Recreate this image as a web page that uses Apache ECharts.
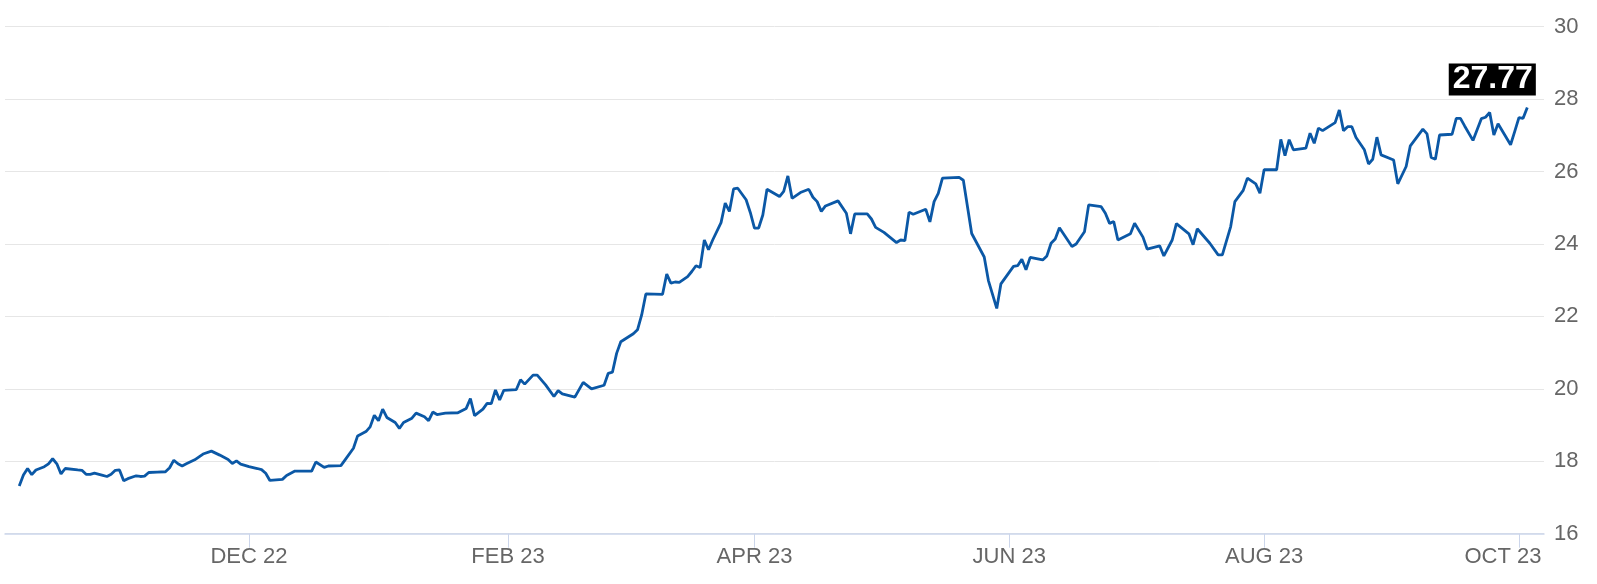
<!DOCTYPE html>
<html>
<head>
<meta charset="utf-8">
<script src="https://cdn.jsdelivr.net/npm/echarts@6.0.0/dist/echarts.min.js"></script>
<style>
html,body{margin:0;padding:0;background:#fff;}
#chart{width:1597px;height:584px;}
</style>
</head>
<body>
<div id="chart"></div>
<script>
const dates = [
'2022-10-07','2022-10-08','2022-10-09','2022-10-10','2022-10-11','2022-10-13','2022-10-14','2022-10-15','2022-10-16','2022-10-17',
'2022-10-18','2022-10-21','2022-10-22','2022-10-23','2022-10-24','2022-10-25','2022-10-27','2022-10-28','2022-10-29','2022-10-30',
'2022-10-31','2022-11-01','2022-11-02','2022-11-04','2022-11-05','2022-11-06','2022-11-07','2022-11-09','2022-11-11','2022-11-12',
'2022-11-13','2022-11-14','2022-11-15','2022-11-16','2022-11-18','2022-11-20','2022-11-22','2022-11-24','2022-11-26','2022-11-27',
'2022-11-28','2022-11-29','2022-12-01','2022-12-03','2022-12-04','2022-12-05','2022-12-06','2022-12-09','2022-12-10','2022-12-12',
'2022-12-16','2022-12-17','2022-12-19','2022-12-20','2022-12-23','2022-12-24','2022-12-26','2022-12-27','2022-12-29','2022-12-30',
'2022-12-31','2023-01-01','2023-01-02','2023-01-03','2023-01-05','2023-01-06','2023-01-07','2023-01-09','2023-01-10','2023-01-12',
'2023-01-13','2023-01-14','2023-01-15','2023-01-17','2023-01-20','2023-01-22','2023-01-23','2023-01-24','2023-01-26','2023-01-27',
'2023-01-28','2023-01-29','2023-01-30','2023-01-31','2023-02-03','2023-02-04','2023-02-05','2023-02-07','2023-02-08','2023-02-10',
'2023-02-12','2023-02-13','2023-02-14','2023-02-17','2023-02-19','2023-02-21','2023-02-24','2023-02-25','2023-02-26','2023-02-27',
'2023-02-28','2023-03-03','2023-03-04','2023-03-05','2023-03-06','2023-03-10','2023-03-11','2023-03-12','2023-03-13','2023-03-14',
'2023-03-16','2023-03-17','2023-03-18','2023-03-19','2023-03-20','2023-03-21','2023-03-22','2023-03-24','2023-03-25','2023-03-26',
'2023-03-27','2023-03-28','2023-03-30','2023-03-31','2023-04-01','2023-04-02','2023-04-03','2023-04-04','2023-04-07','2023-04-08',
'2023-04-09','2023-04-10','2023-04-12','2023-04-14','2023-04-15','2023-04-16','2023-04-17','2023-04-18','2023-04-21','2023-04-23',
'2023-04-24','2023-04-25','2023-04-28','2023-04-29','2023-04-30','2023-05-02','2023-05-05','2023-05-06','2023-05-07','2023-05-08',
'2023-05-09','2023-05-12','2023-05-13','2023-05-14','2023-05-15','2023-05-16','2023-05-20','2023-05-21','2023-05-23','2023-05-26',
'2023-05-27','2023-05-29','2023-05-30','2023-06-02','2023-06-03','2023-06-04','2023-06-05','2023-06-06','2023-06-09','2023-06-10',
'2023-06-11','2023-06-12','2023-06-13','2023-06-16','2023-06-17','2023-06-19','2023-06-20','2023-06-23','2023-06-24','2023-06-25',
'2023-06-26','2023-06-27','2023-06-30','2023-07-01','2023-07-03','2023-07-04','2023-07-07','2023-07-08','2023-07-10','2023-07-11',
'2023-07-14','2023-07-15','2023-07-16','2023-07-19','2023-07-21','2023-07-22','2023-07-24','2023-07-25','2023-07-27','2023-07-28',
'2023-07-30','2023-07-31','2023-08-01','2023-08-04','2023-08-05','2023-08-06','2023-08-07','2023-08-08','2023-08-11','2023-08-12',
'2023-08-13','2023-08-14','2023-08-15','2023-08-18','2023-08-19','2023-08-20','2023-08-21','2023-08-22','2023-08-23','2023-08-25',
'2023-08-26','2023-08-27','2023-08-28','2023-08-29','2023-09-01','2023-09-02','2023-09-04','2023-09-05','2023-09-08','2023-09-09',
'2023-09-10','2023-09-11','2023-09-12','2023-09-15','2023-09-16','2023-09-17','2023-09-18','2023-09-20','2023-09-22','2023-09-23',
'2023-09-24','2023-09-25','2023-09-26','2023-09-29','2023-09-30','2023-10-01','2023-10-02','2023-10-03'
];
const values = [
17.32,17.62,17.80,17.63,17.76,17.85,17.93,18.07,17.93,17.65,
17.80,17.76,17.75,17.64,17.64,17.67,17.61,17.58,17.64,17.75,
17.76,17.46,17.52,17.60,17.58,17.59,17.69,17.70,17.71,17.82,
18.03,17.93,17.87,17.93,18.04,18.20,18.28,18.17,18.05,17.94,
18.01,17.92,17.85,17.80,17.77,17.67,17.47,17.50,17.61,17.73,
17.73,17.98,17.83,17.87,17.88,18.04,18.36,18.70,18.82,18.95,
19.27,19.12,19.44,19.21,19.07,18.91,19.07,19.19,19.33,19.23,
19.12,19.36,19.29,19.33,19.34,19.46,19.73,19.26,19.44,19.60,
19.59,19.97,19.69,19.96,19.98,20.25,20.13,20.38,20.38,20.11,
19.79,19.95,19.86,19.77,20.18,20.00,20.10,20.43,20.46,20.98,
21.30,21.52,21.63,22.04,22.62,22.61,23.17,22.92,22.95,22.94,
23.10,23.24,23.40,23.35,24.11,23.84,24.11,24.59,25.13,24.90,
25.52,25.54,25.22,24.87,24.44,24.44,24.80,25.51,25.31,25.45,
25.88,25.26,25.42,25.51,25.29,25.17,24.90,25.05,25.19,24.85,
24.28,24.83,24.83,24.69,24.46,24.32,24.04,24.11,24.09,24.88,
24.82,24.96,24.61,25.17,25.40,25.82,25.84,25.76,24.29,23.64,
22.99,22.22,22.90,23.38,23.40,23.58,23.29,23.63,23.56,23.67,
24.02,24.14,24.45,23.93,24.00,24.34,25.08,25.03,24.85,24.57,
24.62,24.11,24.28,24.57,24.19,23.86,23.95,23.67,24.11,24.56,
24.28,23.98,24.42,24.02,23.70,23.70,24.48,25.17,25.48,25.82,
25.66,25.40,26.05,26.05,26.89,26.44,26.88,26.60,26.65,27.06,
26.78,27.20,27.13,27.35,27.70,27.13,27.24,27.24,26.94,26.60,
26.21,26.34,26.95,26.46,26.32,25.66,26.14,26.71,27.17,27.04,
26.39,26.34,27.01,27.03,27.47,27.47,27.26,26.86,27.46,27.50,
27.63,27.01,27.32,26.74,27.11,27.49,27.47,27.77
];
const tickDates = ['2022-12-01','2023-02-01','2023-04-01','2023-06-01','2023-08-01','2023-10-01'];
const tickLabels = ['DEC 22','FEB 23','APR 23','JUN 23','AUG 23','OCT 23'];
const axisStart = '2022-10-03 14:10';
const axisEnd = '2023-10-07 00:00';

const FONT = '"Liberation Sans", Arial, sans-serif';
const ts = s => echarts.time.parse(s).getTime();
const seriesData = dates.map((d, i) => [ts(d), values[i]]);
const tickTs = tickDates.map(ts);
const lastIdx = values.length - 1;

function labelFor(v) {
  let best = 0, bd = Infinity;
  tickTs.forEach((t, k) => { if (Math.abs(t - v) < bd) { bd = Math.abs(t - v); best = k; } });
  return best;
}

const chart = echarts.init(document.getElementById('chart'), null, {renderer: 'canvas'});
chart.setOption({
  animation: false,
  backgroundColor: '#ffffff',
  grid: {left: 5, right: 53, top: 26.7, bottom: 50.3, containLabel: false},
  xAxis: {
    type: 'value',
    min: ts(axisStart),
    max: ts(axisEnd),
    axisLine: {show: true, onZero: false, lineStyle: {color: '#ccd6eb', width: 1.5}},
    axisTick: {show: true, length: 14, customValues: tickTs, lineStyle: {color: '#ccd6eb', width: 1}},
    splitLine: {show: false},
    axisLabel: {
      customValues: tickTs,
      margin: 12,
      color: '#666666',
      fontSize: 22,
      fontFamily: FONT,
      formatter: function (v) {
        const i = labelFor(v);
        return i === tickLabels.length - 1 ? '{r|' + tickLabels[i] + '}' : '{a|' + tickLabels[i] + '}';
      },
      rich: {
        a: {color: '#666666', fontSize: 22, fontFamily: FONT},
        r: {color: '#666666', fontSize: 22, fontFamily: FONT, padding: [0, 32, 0, 0]}
      }
    }
  },
  yAxis: {
    type: 'value',
    position: 'right',
    min: 16,
    max: 30,
    interval: 2,
    axisLine: {show: false},
    axisTick: {show: false},
    axisLabel: {color: '#666666', fontSize: 22, fontFamily: FONT, margin: 10},
    splitLine: {show: true, lineStyle: {color: '#e6e6e6', width: 1}}
  },
  series: [{
    type: 'line',
    data: seriesData,
    symbol: 'none',
    showSymbol: false,
    lineStyle: {color: '#0b58a6', width: 2.8},
    itemStyle: {color: '#0b58a6'},
    markPoint: {
      symbol: 'rect',
      symbolSize: 0,
      silent: true,
      data: [{coord: [seriesData[lastIdx][0], values[lastIdx]], value: values[lastIdx]}],
      label: {
        show: true,
        position: 'top',
        distance: 12,
        offset: [-35, 0],
        formatter: p => Number(p.value).toFixed(2),
        backgroundColor: '#000000',
        color: '#ffffff',
        fontSize: 32,
        fontWeight: 'bold',
        fontFamily: FONT,
        lineHeight: 32,
        padding: [0, 3, 0, 4]
      }
    }
  }]
});
</script>
</body>
</html>
